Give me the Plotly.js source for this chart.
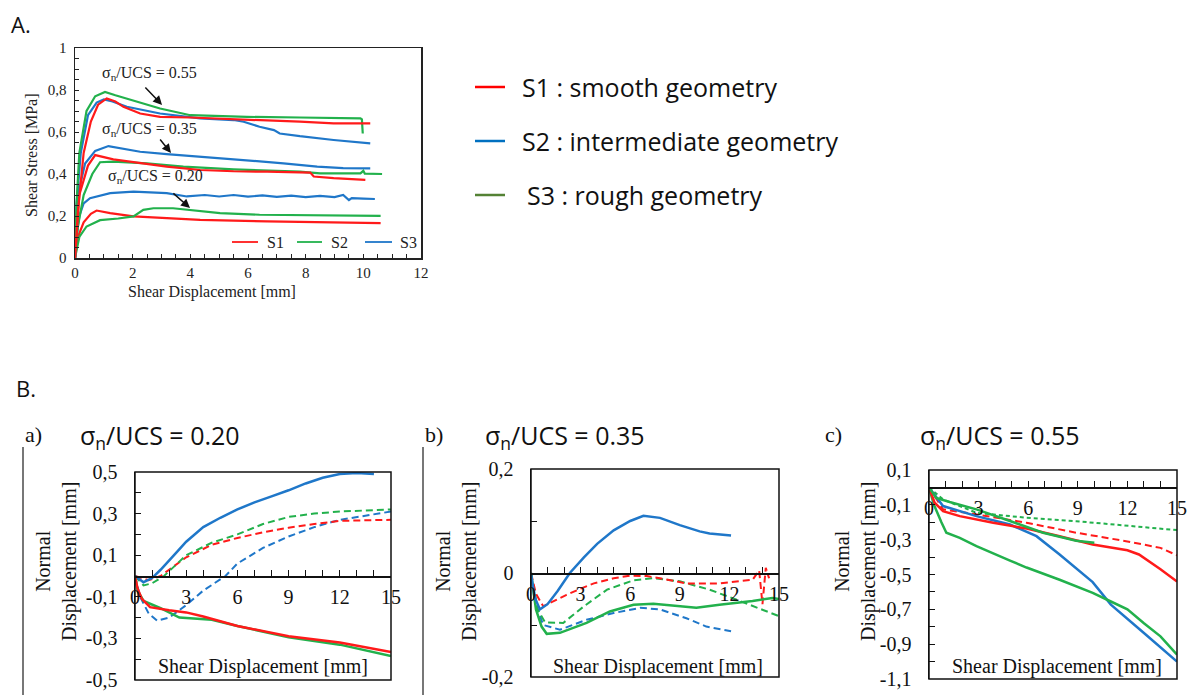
<!DOCTYPE html>
<html><head><meta charset="utf-8">
<script src="https://cdn.plot.ly/plotly-3.0.1.min.js"></script>
<style>html,body{margin:0;padding:0;background:#fff;}#chart{width:1201px;height:695px;}</style>
</head><body><div id="chart"></div>
<script>
// ---------- Panel A : shear stress vs shear displacement ----------
const A55_S1_x = [0,0.1,0.3,0.55,0.8,1.1,1.4,1.68,2.26,2.95,4.0,5.0,5.96,7.0,7.8,8.97,10.0,10.24];
const A55_S1_y = [0,0.22,0.5,0.65,0.73,0.76,0.745,0.72,0.688,0.672,0.669,0.664,0.66,0.655,0.649,0.641,0.642,0.641];
const A55_S2_x = [0,0.05,0.15,0.4,0.7,1.04,1.4,2.0,2.95,4.0,5.0,5.96,7.8,9.0,9.9,9.95,9.98];
const A55_S2_y = [0,0.25,0.5,0.7,0.77,0.791,0.775,0.752,0.712,0.68,0.675,0.672,0.669,0.667,0.665,0.66,0.593];
const A55_S3_x = [0,0.05,0.2,0.45,0.75,1.0,1.3,1.8,2.95,4.34,5.5,5.85,6.4,6.9,7.1,7.8,8.97,10.24];
const A55_S3_y = [0,0.25,0.5,0.68,0.74,0.755,0.745,0.72,0.688,0.665,0.657,0.649,0.625,0.609,0.593,0.58,0.562,0.546];

const A35_S1_x = [0,0.15,0.45,0.7,1.33,2.26,3.18,4.34,5.5,6.66,8.16,8.28,8.97,10.07];
const A35_S1_y = [0,0.3,0.44,0.49,0.47,0.451,0.435,0.419,0.413,0.411,0.407,0.388,0.38,0.372];
const A35_S2_x = [0,0.1,0.3,0.6,0.87,1.33,2.49,3.76,5.5,7.8,8.5,9.9,10.0,10.05,10.65];
const A35_S2_y = [0,0.15,0.3,0.4,0.456,0.459,0.451,0.435,0.422,0.411,0.403,0.403,0.415,0.402,0.4];
const A35_S3_x = [0,0.1,0.35,0.7,1.16,2.26,3.18,4.34,5.96,7.23,8.4,9.3,10.24];
const A35_S3_y = [0,0.3,0.45,0.51,0.533,0.506,0.495,0.483,0.467,0.451,0.435,0.428,0.427];

const A20_S1_x = [0,0.1,0.3,0.55,0.75,1.22,2.03,3.18,4.34,6.66,8.97,10.6];
const A20_S1_y = [0,0.1,0.17,0.21,0.226,0.214,0.198,0.19,0.182,0.174,0.171,0.166];
const A20_S2_x = [0,0.15,0.4,0.87,1.5,2.03,2.37,2.72,3.4,4.1,5.03,6.4,8.97,10.6];
const A20_S2_y = [0,0.1,0.15,0.18,0.188,0.198,0.229,0.237,0.237,0.226,0.214,0.206,0.201,0.201];
const A20_S3_x = [0,0.05,0.15,0.3,0.52,1.22,2.03,3.18,3.88,4.5,5.0,5.5,6.0,6.5,7.0,7.5,8.0,8.5,9.0,9.3,9.5,9.6,10.0,10.4];
const A20_S3_y = [0,0.1,0.2,0.26,0.285,0.309,0.316,0.309,0.293,0.3,0.293,0.3,0.292,0.298,0.291,0.297,0.29,0.296,0.29,0.3,0.276,0.285,0.283,0.281];

// ---------- Panel B.a : sigma_n/UCS = 0.20 ----------
const Ba_blueSolid_x = [0,0.5,1.0,1.5,2.5,3.0,4.0,5.0,6.0,7.0,8.0,9.0,10.0,11.0,12.0,13.0,14.0];
const Ba_blueSolid_y = [0,-0.03,-0.01,0.03,0.12,0.165,0.235,0.28,0.32,0.354,0.383,0.412,0.445,0.472,0.49,0.495,0.49];
const Ba_greenDash_x = [0,0.5,1.0,1.7,3.0,4.5,6.0,7.5,9.0,10.5,12.0,13.5,15.0];
const Ba_greenDash_y = [0,-0.045,-0.035,0,0.1,0.16,0.2,0.25,0.284,0.3,0.31,0.315,0.32];
const Ba_redDash_x = [0,0.8,1.5,3.0,4.5,6.0,7.5,9.0,10.5,12.0,13.5,15.0];
const Ba_redDash_y = [0,-0.02,0.0,0.09,0.15,0.183,0.21,0.232,0.25,0.265,0.268,0.27];
const Ba_blueDash_x = [0,0.3,0.8,1.3,2.0,3.0,4.0,5.3,6.0,7.5,9.0,10.5,12.0,13.5,15.0];
const Ba_blueDash_y = [0,-0.1,-0.18,-0.215,-0.2,-0.14,-0.07,0,0.06,0.135,0.19,0.235,0.27,0.29,0.31];
const Ba_redSolid_x = [0,0.15,0.4,0.88,2.0,3.0,4.0,6.0,9.0,12.0,15.0];
const Ba_redSolid_y = [0,-0.06,-0.11,-0.15,-0.165,-0.175,-0.195,-0.24,-0.29,-0.32,-0.365];
const Ba_greenSolid_x = [0,0.15,0.5,1.5,2.6,3.8,4.5,6.0,9.0,12.0,15.0];
const Ba_greenSolid_y = [0,-0.07,-0.12,-0.155,-0.2,-0.205,-0.21,-0.24,-0.295,-0.33,-0.385];

// ---------- Panel B.b : sigma_n/UCS = 0.35 ----------
const Bb_blueSolid_x = [0,0.2,0.54,1.0,1.6,2.35,3.2,4.0,5.0,6.0,6.8,7.8,9.0,10.2,10.8,11.4,12.1];
const Bb_blueSolid_y = [0,-0.045,-0.07,-0.06,-0.035,0,0.03,0.056,0.082,0.10,0.11,0.106,0.092,0.08,0.076,0.074,0.072];
const Bb_redDash_x = [0,0.3,0.74,1.3,2.15,3.0,3.8,5.0,6.0,7.0,7.8,9.4,11.4,13.4,13.8,14.0,14.2,14.4];
const Bb_redDash_y = [0,-0.04,-0.064,-0.055,-0.042,-0.03,-0.02,-0.01,-0.005,-0.006,-0.01,-0.02,-0.02,-0.013,0.005,-0.06,0.01,-0.01];
const Bb_greenDash_x = [0,0.4,0.85,1.95,3.2,4.6,6.2,7.4,9.0,10.8,12.4,14.0,15.0];
const Bb_greenDash_y = [0,-0.07,-0.095,-0.096,-0.064,-0.032,-0.014,-0.01,-0.016,-0.032,-0.051,-0.07,-0.083];
const Bb_greenSolid_x = [0,0.3,0.64,0.95,1.75,2.5,3.36,4.77,6.2,7.4,9.0,10.0,11.4,12.4,13.4,14.6,15.0];
const Bb_greenSolid_y = [0,-0.07,-0.103,-0.117,-0.115,-0.106,-0.096,-0.074,-0.061,-0.059,-0.064,-0.067,-0.061,-0.058,-0.054,-0.048,-0.05];
const Bb_blueDash_x = [0,0.4,0.74,1.75,3.36,5.0,6.6,7.8,9.4,10.6,12.1];
const Bb_blueDash_y = [0,-0.07,-0.1,-0.109,-0.09,-0.077,-0.067,-0.07,-0.087,-0.103,-0.112];

// ---------- Panel B.c : sigma_n/UCS = 0.55 ----------
const Bc_greenDash_x = [0,0.85,2.87,5.9,8.9,12.0,15.0];
const Bc_greenDash_y = [0,-0.069,-0.146,-0.174,-0.194,-0.218,-0.245];
const Bc_redDash_x = [0,0.85,2.87,5.9,8.9,12.0,14.0,15.0];
const Bc_redDash_y = [0,-0.126,-0.155,-0.203,-0.26,-0.31,-0.347,-0.39];
const Bc_greenSolidUp_x = [0,0.44,1.25,2.87,4.9,6.9,8.9,10.0];
const Bc_greenSolidUp_y = [0,-0.06,-0.084,-0.126,-0.193,-0.26,-0.306,-0.318];
const Bc_redSolid_x = [0,0.34,0.85,1.86,3.88,5.9,7.9,9.9,12.0,12.7,14.0,15.0];
const Bc_redSolid_y = [0,-0.088,-0.136,-0.165,-0.203,-0.236,-0.28,-0.328,-0.361,-0.385,-0.47,-0.54];
const Bc_blueSolid_x = [0,0.85,2.87,4.9,6.5,7.9,9.9,11.0,13.0,15.0];
const Bc_blueSolid_y = [0,-0.107,-0.165,-0.213,-0.28,-0.385,-0.544,-0.673,-0.836,-1.0];
const Bc_greenSolidLow_x = [0,0.3,0.75,1.05,1.86,2.87,4.9,5.9,7.9,9.9,11.0,12.0,13.0,14.0,15.0];
const Bc_greenSolidLow_y = [0,-0.1,-0.2,-0.26,-0.29,-0.337,-0.42,-0.46,-0.53,-0.605,-0.655,-0.7,-0.78,-0.855,-0.96];

// ---------- Labels ----------
const legendA_labels = ['S1','S2','S3'];
const legendOuter_labels = ['S1 : smooth geometry','S2 : intermediate geometry','S3 : rough geometry'];
const sigmaLabels = ['σ<sub>n</sub>/UCS = 0.55','σ<sub>n</sub>/UCS = 0.35','σ<sub>n</sub>/UCS = 0.20'];
const panelB_titles = ['σ<sub>n</sub>/UCS = 0.20','σ<sub>n</sub>/UCS = 0.35','σ<sub>n</sub>/UCS = 0.55'];
const panelB_letters = ['a)','b)','c)'];
const Ba_tickvals = [-0.5,-0.3,-0.1,0.1,0.3,0.5];
const Ba_ticktext = ['-0,5','-0,3','-0,1','0,1','0,3','0,5'];
const Bb_tickvals = [-0.2,0,0.2];
const Bb_ticktext = ['-0,2','0','0,2'];
const Bc_tickvals = [-1.1,-0.9,-0.7,-0.5,-0.3,-0.1,0.1];
const Bc_ticktext = ['-1,1','-0,9','-0,7','-0,5','-0,3','-0,1','0,1'];

// ---------- Styling ----------
const RED = '#ff1a1a', GREEN = '#22b14c', BLUE = '#1f77c9';
const LEG_RED = '#ff0000', LEG_BLUE = '#0070c0', LEG_GREEN = '#548235';
const SERIF = 'Liberation Serif, Times New Roman, serif';
const SANS = 'Open Sans, sans-serif';
const W = 1201, H = 695;
const X = px => px / W, Y = py => 1 - py / H;

function ln(x, y, color, xa, ya, dash, width) {
  return {x, y, type:'scatter', mode:'lines', xaxis:xa, yaxis:ya, hoverinfo:'skip',
          line:{color, width:width||2, dash:dash||'solid'}};
}
const DASH = '7px,4px', DOT = '4px,3px';
const WA = 2.2;

const traces = [
  ln(A20_S1_x,A20_S1_y,RED,'x','y',null,WA), ln(A20_S2_x,A20_S2_y,GREEN,'x','y',null,WA), ln(A20_S3_x,A20_S3_y,BLUE,'x','y',null,WA),
  ln(A35_S3_x,A35_S3_y,BLUE,'x','y',null,WA), ln(A35_S2_x,A35_S2_y,GREEN,'x','y',null,WA), ln(A35_S1_x,A35_S1_y,RED,'x','y',null,WA),
  ln(A55_S3_x,A55_S3_y,BLUE,'x','y',null,WA), ln(A55_S2_x,A55_S2_y,GREEN,'x','y',null,WA), ln(A55_S1_x,A55_S1_y,RED,'x','y',null,WA),

  ln(Ba_blueDash_x,Ba_blueDash_y,BLUE,'x2','y2',DASH,2), ln(Ba_redDash_x,Ba_redDash_y,RED,'x2','y2',DASH,2),
  ln(Ba_greenDash_x,Ba_greenDash_y,GREEN,'x2','y2',DASH,2), ln(Ba_blueSolid_x,Ba_blueSolid_y,BLUE,'x2','y2',null,2.5),
  ln(Ba_greenSolid_x,Ba_greenSolid_y,GREEN,'x2','y2',null,2.5), ln(Ba_redSolid_x,Ba_redSolid_y,RED,'x2','y2',null,2.5),

  ln(Bb_blueDash_x,Bb_blueDash_y,BLUE,'x3','y3',DASH,2), ln(Bb_greenDash_x,Bb_greenDash_y,GREEN,'x3','y3',DASH,2),
  ln(Bb_redDash_x,Bb_redDash_y,RED,'x3','y3',DASH,2), ln(Bb_greenSolid_x,Bb_greenSolid_y,GREEN,'x3','y3',null,2.5),
  ln(Bb_blueSolid_x,Bb_blueSolid_y,BLUE,'x3','y3',null,2.5),

  ln(Bc_greenDash_x,Bc_greenDash_y,GREEN,'x4','y4',DOT,2), ln(Bc_redDash_x,Bc_redDash_y,RED,'x4','y4',DASH,2),
  ln(Bc_blueSolid_x,Bc_blueSolid_y,BLUE,'x4','y4',null,2.5), ln(Bc_greenSolidLow_x,Bc_greenSolidLow_y,GREEN,'x4','y4',null,2.5),
  ln(Bc_redSolid_x,Bc_redSolid_y,RED,'x4','y4',null,2.5), ln(Bc_greenSolidUp_x,Bc_greenSolidUp_y,GREEN,'x4','y4',null,2.5)
];

// domains (pixel based)
const dA = {x:[X(75),X(421)], y:[Y(258),Y(48)]};
const da = {x:[X(135),X(391)], y:[Y(680),Y(472)]};
const db = {x:[X(531),X(779)], y:[Y(677),Y(469)]};
const dc = {x:[X(929),X(1177)], y:[Y(679),Y(470)]};
const zeroPos = (d, lo, hi) => d.y[0] + (0 - lo) / (hi - lo) * (d.y[1] - d.y[0]);

const tfA = {family:SERIF, size:15, color:'#222'};
const tfB = {family:SERIF, size:20, color:'#111'};
function bx(d, lo, hi) {
  return {domain:d.x, range:[0,15], anchor:'free', position:zeroPos(d,lo,hi), showline:true, linecolor:'#111', linewidth:1.5,
    showgrid:false, zeroline:false, tickmode:'linear', tick0:0, dtick:3, ticks:'inside', ticklen:6, tickcolor:'#111',
    minor:{dtick:1, tick0:0, ticks:'inside', ticklen:6, tickcolor:'#111', showgrid:false}, tickfont:tfB, ticklabelstandoff:2};
}
function by(d, lo, hi, xa, tv, tt) {
  return {domain:d.y, range:[lo,hi], anchor:xa, showline:true, linecolor:'#111', linewidth:1.5, showgrid:false, zeroline:false,
    tickmode:'array', tickvals:tv, ticktext:tt, ticks:'inside', ticklen:6, tickcolor:'#111', tickfont:tfB, ticklabelstandoff:12,
    minor:{tickmode:'linear', tick0:0, dtick:0.1, ticks:'inside', ticklen:6, tickcolor:'#111', showgrid:false}};
}

const layout = {
  width:W, height:H, margin:{l:0,r:0,t:0,b:0}, paper_bgcolor:'#fff', plot_bgcolor:'rgba(0,0,0,0)',
  showlegend:false, separators:', ',
  xaxis:{domain:dA.x, range:[0,12], anchor:'y', showline:true, mirror:true, linecolor:'#222', linewidth:1.5, showgrid:false,
    zeroline:false, tickmode:'linear', tick0:0, dtick:2, ticks:'inside', ticklen:4, tickcolor:'#222',
    minor:{dtick:0.5, ticks:'inside', ticklen:4, tickcolor:'#222', showgrid:false}, tickfont:tfA},
  yaxis:{domain:dA.y, range:[0,1], anchor:'x', showline:true, mirror:true, linecolor:'#222', linewidth:1.5, showgrid:false,
    zeroline:false, tickmode:'linear', tick0:0, dtick:0.2, ticks:'inside', ticklen:4, tickcolor:'#222',
    minor:{dtick:0.05, ticks:'inside', ticklen:4, tickcolor:'#222', showgrid:false}, tickfont:tfA, ticklabelstandoff:4},
  xaxis2:bx(da,-0.5,0.5), yaxis2:by(da,-0.5,0.5,'x2',Ba_tickvals,Ba_ticktext),
  xaxis3:bx(db,-0.2,0.2), yaxis3:by(db,-0.2,0.2,'x3',Bb_tickvals,Bb_ticktext),
  xaxis4:bx(dc,-1.1,0.1), yaxis4:by(dc,-1.1,0.1,'x4',Bc_tickvals,Bc_ticktext),
  shapes:[], annotations:[]
};

// boxes around B panels
[['x2','y2'],['x3','y3'],['x4','y4']].forEach(([xa,ya]) => {
  layout.shapes.push({type:'rect', xref:xa+' domain', yref:ya+' domain', x0:0,x1:1,y0:0,y1:1, line:{color:'#111',width:1.5}});
});
// separators
layout.shapes.push({type:'line', xref:'paper', yref:'paper', x0:X(23),x1:X(23),y0:Y(447),y1:0, line:{color:'#777',width:2}});
layout.shapes.push({type:'line', xref:'paper', yref:'paper', x0:X(423),x1:X(423),y0:Y(447),y1:0, line:{color:'#777',width:2}});

// inner legend of panel A
const legA = [[232,258,265,RED],[297,322,329,GREEN],[365,392,398,BLUE]];
legA.forEach((l,i) => {
  layout.shapes.push({type:'line', xref:'paper', yref:'paper', x0:X(l[0]), x1:X(l[1]), y0:Y(242), y1:Y(242), line:{color:l[3],width:1.8}});
  layout.annotations.push({xref:'paper', yref:'paper', x:X(l[2]), y:Y(242), xanchor:'left', yanchor:'middle', showarrow:false,
    text:legendA_labels[i], font:{family:SERIF, size:16, color:'#222'}});
});
// outer legend
const legO = [[87,520,LEG_RED],[141,520,LEG_BLUE],[195,525,LEG_GREEN]];
legO.forEach((l,i) => {
  layout.shapes.push({type:'line', xref:'paper', yref:'paper', x0:X(475), x1:X(505), y0:Y(l[0]), y1:Y(l[0]), line:{color:l[2],width:2.5}});
  layout.annotations.push({xref:'paper', yref:'paper', x:X(l[1]), y:Y(l[0]), xanchor:'left', yanchor:'middle', showarrow:false,
    text:legendOuter_labels[i], font:{family:SANS, size:25, color:'#111'}});
});

const ann = layout.annotations;
function txt(px, py, text, font, xanchor, extra) {
  ann.push(Object.assign({xref:'paper', yref:'paper', x:X(px), y:Y(py), text, font, xanchor:xanchor||'center', yanchor:'middle', showarrow:false}, extra||{}));
}
// panel letters
txt(9, 24, 'A.', {family:SANS, size:22, color:'#111'}, 'left');
txt(14, 388, 'B.', {family:SANS, size:22, color:'#111'}, 'left');
// panel A axis titles
txt(212, 292, 'Shear Displacement [mm]', {family:SERIF, size:16, color:'#222'});
txt(32, 155, 'Shear Stress [MPa]', {family:SERIF, size:16, color:'#222'}, 'center', {textangle:-90});
// sigma annotations with arrows (panel A, data coords)
const fA = {family:SERIF, size:16, color:'#222'};
ann.push({xref:'x', yref:'y', x:0.87, y:0.88, text:sigmaLabels[0], font:fA, xanchor:'left', yanchor:'middle', showarrow:false});
ann.push({xref:'x', yref:'y', x:0.87, y:0.614, text:sigmaLabels[1], font:fA, xanchor:'left', yanchor:'middle', showarrow:false});
ann.push({xref:'x', yref:'y', x:1.08, y:0.386, text:sigmaLabels[2], font:fA, xanchor:'left', yanchor:'middle', showarrow:false});
[[3.02,0.729,2.39,0.819],[3.33,0.50,2.91,0.571],[3.99,0.238,3.36,0.314]].forEach(a => {
  ann.push({xref:'x', yref:'y', axref:'x', ayref:'y', x:a[0], y:a[1], ax:a[2], ay:a[3], text:'', showarrow:true,
    arrowhead:2, arrowsize:1.2, arrowwidth:1.5, arrowcolor:'#111'});
});
// panel B titles
const fT = {family:SANS, size:25, color:'#111'};
const fL = {family:SERIF, size:22, color:'#111'};
[[33,78],[434,483],[833,918]].forEach((p,i) => {
  txt(p[0], 434, panelB_letters[i], fL);
  txt(p[1], 436, panelB_titles[i], fT, 'left');
});
// panel B axis titles
[[56,263],[456,658],[855,1057]].forEach(p => {
  txt(p[0], 562, 'Normal<br>Displacement [mm]', tfB, 'center', {textangle:-90});
  txt(p[1], 666, 'Shear Displacement [mm]', tfB);
});

Plotly.newPlot('chart', traces, layout, {staticPlot:true, displayModeBar:false});
</script></body></html>
